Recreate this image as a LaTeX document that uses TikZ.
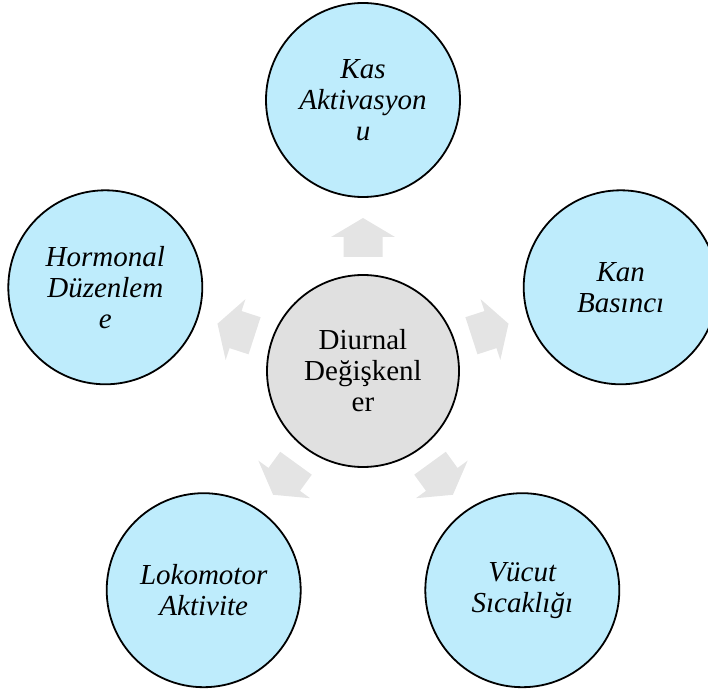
\documentclass[tikz,border=0pt]{standalone}
\usepackage{fontspec}
\setmainfont{Liberation Serif}
\definecolor{cblue}{RGB}{190,236,252}
\definecolor{cgray}{RGB}{224,224,224}
\definecolor{agray}{RGB}{228,228,228}
\begin{document}
\begin{tikzpicture}[x=1pt,y=1pt]
\tikzset{
  outernode/.style={circle, draw=black, line width=1.8pt, fill=cblue, minimum size=194pt, inner sep=0pt, align=center, font=\fontsize{29}{31}\selectfont\itshape},
  hubnode/.style={circle, draw=black, line width=1.8pt, fill=cgray, minimum size=192pt, inner sep=0pt, align=center, font=\fontsize{29}{31}\selectfont},
  blockarrow/.style={fill=agray, draw=none}
}
\useasboundingbox (0,0) rectangle (708,688);
\node[hubnode] (c) at (363,317) {Diurnal\\Değişkenl\\er};
\node[outernode] (n1) at (363,588) {Kas\\Aktivasyon\\u};
\node[outernode] (n2) at (620.7,400.7) {Kan\\Basıncı};
\node[outernode] (n3) at (522.3,97.8) {Vücut\\Sıcaklığı};
\node[outernode] (n4) at (203.7,97.8) {Lokomotor\\Aktivite};
\node[outernode] (n5) at (105.3,400.7) {Hormonal\\Düzenlem\\e};
\foreach \a in {90,18,-54,-126,162}{
  \fill[blockarrow, shift={(363,317)}, rotate=\a]
    (114,-19.5) -- (134,-19.5) -- (134,-32) -- (153,0) -- (134,32) -- (134,19.5) -- (114,19.5) -- cycle;
}
\end{tikzpicture}
\end{document}
